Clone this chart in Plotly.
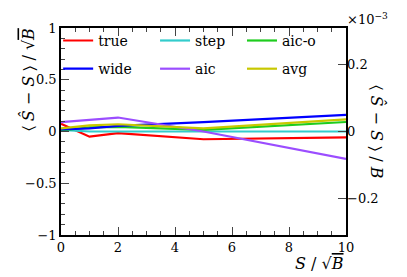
import plotly.graph_objects as go

x_vals = [0, 1, 2, 5, 10]
true_vals = [0.075, -0.05, -0.015, -0.075, -0.056]
step_vals = [0.015, 0.0, 0.0, 0.0, 0.0]
aico_vals = [0.01, 0.04, 0.045, 0.015, 0.092]
wide_vals = [0.02, 0.03, 0.055, 0.09, 0.16]
aic_vals = [0.09, 0.115, 0.135, 0.0, -0.265]
avg_vals = [0.03, 0.06, 0.07, 0.03, 0.118]

series = [
    ("true", true_vals, "#ff0000", "legend"),
    ("wide", wide_vals, "#0000ff", "legend"),
    ("step", step_vals, "#33cccc", "legend2"),
    ("aic", aic_vals, "#9b4dff", "legend2"),
    ("aic-o", aico_vals, "#1ecc1e", "legend3"),
    ("avg", avg_vals, "#c8c800", "legend3"),
]
draw_order = ["true", "step", "aic-o", "wide", "aic", "avg"]

left_ticks = [-1, -0.5, 0, 0.5, 1]
left_labels = ["\u22121", "\u22120.5", "0", "0.5", "1"]
right_ticks = [-0.2, 0, 0.2]
right_labels = ["\u22120.2", "0", "0.2"]
x_ticks = [0, 2, 4, 6, 8, 10]

FONT = "DejaVu Serif"

fig = go.Figure()
lookup = {s[0]: s for s in series}
for nm in draw_order:
    name, vals, col, leg = lookup[nm]
    fig.add_trace(go.Scatter(x=x_vals, y=vals, mode="lines", name=name,
                             legend=leg, legendgroup=name,
                             line=dict(color=col, width=2.2)))
fig.add_trace(go.Scatter(x=[], y=[], yaxis="y2", showlegend=False, hoverinfo="skip"))

leg_common = dict(yanchor="top", xanchor="left", y=1.015,
                  font=dict(family=FONT, size=14), bgcolor="rgba(0,0,0,0)",
                  tracegroupgap=7, traceorder="grouped")

fig.update_layout(
    width=407, height=277,
    margin=dict(l=61, r=61, t=28, b=42),
    paper_bgcolor="white", plot_bgcolor="white",
    font=dict(family=FONT, size=13, color="black"),
    showlegend=True,
    legend=dict(x=-0.01, **leg_common),
    legend2=dict(x=0.33, **leg_common),
    legend3=dict(x=0.635, **leg_common),
    xaxis=dict(range=[0, 10], tickvals=x_ticks, ticks="inside", ticklen=8,
               tickwidth=1, showline=True, linecolor="black", linewidth=1.5,
               mirror="ticks", showgrid=False, zeroline=False,
               minor=dict(dtick=0.5, ticks="inside", ticklen=4, tickwidth=1),
               tickfont=dict(family=FONT, size=13)),
    yaxis=dict(range=[-1, 1], tickvals=left_ticks, ticktext=left_labels,
               ticks="inside", ticklen=8, tickwidth=1, showline=True,
               linecolor="black", linewidth=1.5, mirror=True, showgrid=False,
               zeroline=False,
               minor=dict(dtick=0.1, ticks="inside", ticklen=4, tickwidth=1),
               tickfont=dict(family=FONT, size=13)),
    yaxis2=dict(range=[-0.309, 0.309], overlaying="y", side="right",
                tickvals=right_ticks, ticktext=right_labels, ticks="inside",
                ticklen=8, tickwidth=1, showline=False, showgrid=False,
                zeroline=False, tickfont=dict(family=FONT, size=13)),
)

fig.add_annotation(text="\u2329 <i>\u015c</i> \u2212 <i>S</i> \u232a / \u221a<span style='text-decoration:overline'><i>B</i></span>",
                   textangle=-90, xref="paper", yref="paper", x=-0.116, y=1.01,
                   xanchor="center", yanchor="top", showarrow=False,
                   font=dict(family=FONT, size=16))
fig.add_annotation(text="\u2329 <i>\u015c</i> \u2212 <i>S</i> \u232a / <i>B</i>",
                   textangle=90, xref="paper", yref="paper", x=1.109, y=0.5,
                   xanchor="center", yanchor="middle", showarrow=False,
                   font=dict(family=FONT, size=16))
fig.add_annotation(text="<i>S</i> / \u221a<span style='text-decoration:overline'><i>B</i></span>",
                   xref="paper", yref="paper", x=1.0, y=-0.14,
                   xanchor="right", yanchor="middle", showarrow=False,
                   font=dict(family=FONT, size=16))
fig.add_annotation(text="\u00d710<sup>\u22123</sup>",
                   xref="paper", yref="paper", x=0.996, y=1.045,
                   xanchor="left", yanchor="middle", showarrow=False,
                   font=dict(family=FONT, size=13))

fig.write_html("out.html", config={"displayModeBar": False},
               post_script="document.body.style.margin='0';document.body.style.padding='0';")
